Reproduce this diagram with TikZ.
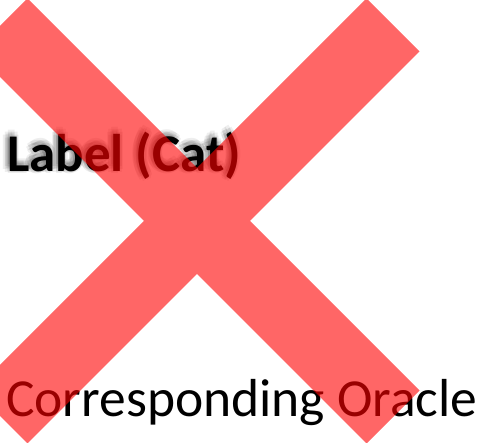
\documentclass[tikz,border=0pt]{standalone}
\usepackage{fontspec}
\setmainfont{Carlito}
\usetikzlibrary{calc}
\begin{document}
\begin{tikzpicture}[x=1pt,y=-1pt,
  labeltext/.style={anchor=base west,inner sep=0pt,font=\fontsize{53}{60}\selectfont\bfseries},
  oracletext/.style={anchor=base west,inner sep=0pt,font=\fontsize{53.5}{60}\selectfont},
  haze/.style={labeltext,text=black,text opacity=0.065},
  crossfill/.style={fill={rgb,255:red,255;green,0;blue,0},fill opacity=0.6}]
\useasboundingbox (0,0) rectangle (477,443);
\fill[white] (0,0) rectangle (477,443);
% soft shadow behind the bold label: faint copies spread round a point up and to the left
\foreach \ang in {0,45,...,315}
  \node[haze] at ({7-2+4.5*cos(\ang)},{172-2.5+4.5*sin(\ang)}) {Label (Cat)};
\foreach \ang in {22.5,112.5,202.5,292.5}
  \node[haze] at ({7-2+2*cos(\ang)},{172-2.5+2*sin(\ang)}) {Label (Cat)};
\node[labeltext] (lbl) at (7,172) {Label (Cat)};
\node[oracletext] (orc) at (6,417) {Corresponding Oracle};
% the cross, one outline so the overlap is not doubled
\coordinate (c) at (197,221);
\fill[crossfill]
  ($(c)+(-169.5,-222.5)$) -- ($(c)+(0,-53)$) -- ($(c)+(169.5,-222.5)$) --
  ($(c)+(222.5,-169.5)$) -- ($(c)+(53,0)$) -- ($(c)+(222.5,169.5)$) --
  ($(c)+(169.5,222.5)$) -- ($(c)+(0,53)$) -- ($(c)+(-169.5,222.5)$) --
  ($(c)+(-222.5,169.5)$) -- ($(c)+(-53,0)$) -- ($(c)+(-222.5,-169.5)$) -- cycle;
\end{tikzpicture}
\end{document}
